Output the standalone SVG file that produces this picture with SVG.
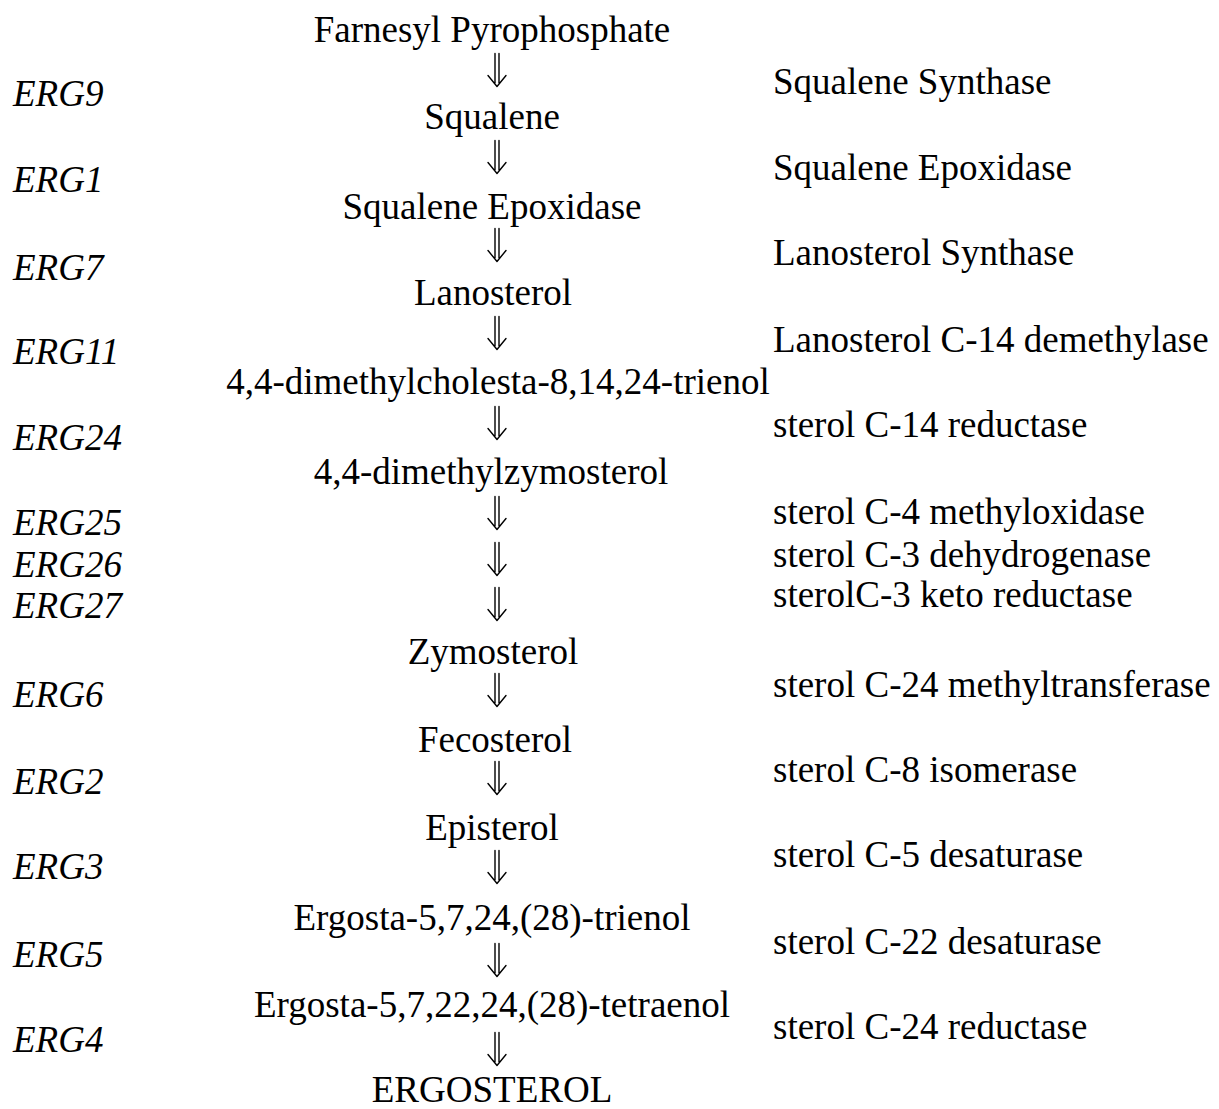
<svg xmlns="http://www.w3.org/2000/svg" width="1219" height="1109" viewBox="0 0 1219 1109">
<style>
text{font-family:"Liberation Serif","Times New Roman",serif;font-size:37px;fill:#000}
.c{text-anchor:middle}
.g{font-style:italic}
.arr{fill:none;stroke:#000;stroke-width:1.4;stroke-linecap:round;stroke-linejoin:round}
</style>
<defs>
<g id="dar"><path class="arr" d="M-2,-16.5V13M2,-16.5V13M-9,5.5L0,16.5L9,5.5"/></g>
</defs>
<rect width="1219" height="1109" fill="#fff"/>
<g id="connectors">
<use href="#dar" x="497" y="70"/>
<use href="#dar" x="497" y="157"/>
<use href="#dar" x="497" y="245"/>
<use href="#dar" x="497" y="333"/>
<use href="#dar" x="497" y="423"/>
<use href="#dar" x="497" y="513"/>
<use href="#dar" x="497" y="559"/>
<use href="#dar" x="497" y="604"/>
<use href="#dar" x="497" y="690"/>
<use href="#dar" x="497" y="778"/>
<use href="#dar" x="497" y="867"/>
<use href="#dar" x="497" y="960"/>
<use href="#dar" x="497" y="1049"/>
</g>
<g id="n-fpp"><text class="c" x="492" y="42">Farnesyl Pyrophosphate</text></g>
<g id="n-squalene"><text class="c" x="492" y="129">Squalene</text></g>
<g id="n-sqepox"><text class="c" x="492" y="219">Squalene Epoxidase</text></g>
<g id="n-lanosterol"><text class="c" x="493" y="305">Lanosterol</text></g>
<g id="n-dmct"><text class="c" x="498" y="394">4,4-dimethylcholesta-8,14,24-trienol</text></g>
<g id="n-dmz"><text class="c" x="491" y="484">4,4-dimethylzymosterol</text></g>
<g id="n-zymosterol"><text class="c" x="493" y="664">Zymosterol</text></g>
<g id="n-fecosterol"><text class="c" x="495" y="752">Fecosterol</text></g>
<g id="n-episterol"><text class="c" x="492" y="840">Episterol</text></g>
<g id="n-trienol"><text class="c" x="492" y="930">Ergosta-5,7,24,(28)-trienol</text></g>
<g id="n-tetraenol"><text class="c" x="492" y="1017">Ergosta-5,7,22,24,(28)-tetraenol</text></g>
<g id="n-ergosterol"><text class="c" x="492" y="1102">ERGOSTEROL</text></g>
<g id="genes">
<text class="g" x="13" y="106">ERG9</text>
<text class="g" x="13" y="192">ERG1</text>
<text class="g" x="13" y="280">ERG7</text>
<text class="g" x="13" y="364">ERG11</text>
<text class="g" x="13" y="450">ERG24</text>
<text class="g" x="13" y="535">ERG25</text>
<text class="g" x="13" y="577">ERG26</text>
<text class="g" x="13" y="618">ERG27</text>
<text class="g" x="13" y="707">ERG6</text>
<text class="g" x="13" y="794">ERG2</text>
<text class="g" x="13" y="879">ERG3</text>
<text class="g" x="13" y="967">ERG5</text>
<text class="g" x="13" y="1052">ERG4</text>
</g>
<g id="enzymes">
<text x="773" y="94">Squalene Synthase</text>
<text x="773" y="180">Squalene Epoxidase</text>
<text x="773" y="265">Lanosterol Synthase</text>
<text x="773" y="352">Lanosterol C-14 demethylase</text>
<text x="773" y="437">sterol C-14 reductase</text>
<text x="773" y="524">sterol C-4 methyloxidase</text>
<text x="773" y="567">sterol C-3 dehydrogenase</text>
<text x="773" y="607">sterolC-3 keto reductase</text>
<text x="773" y="697">sterol C-24 methyltransferase</text>
<text x="773" y="782">sterol C-8 isomerase</text>
<text x="773" y="867">sterol C-5 desaturase</text>
<text x="773" y="954">sterol C-22 desaturase</text>
<text x="773" y="1039">sterol C-24 reductase</text>
</g>
</svg>
